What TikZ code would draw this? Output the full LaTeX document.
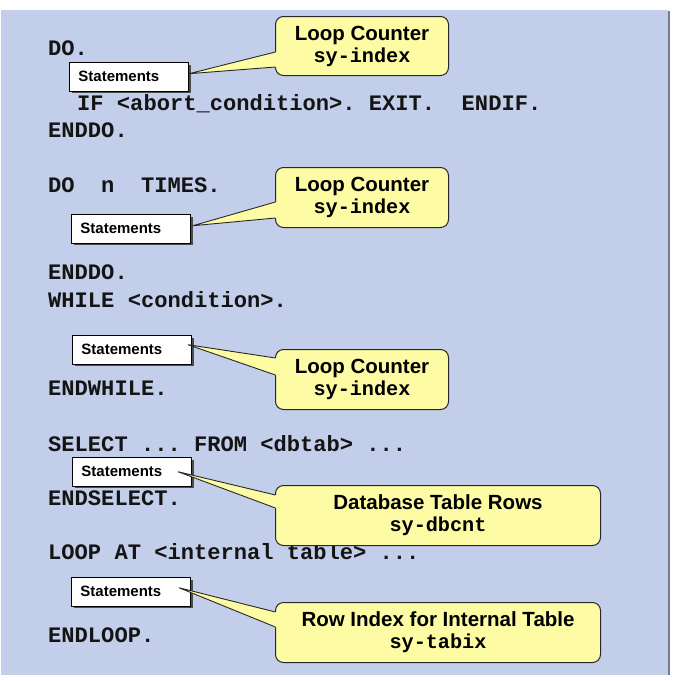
\documentclass[tikz,border=0pt]{standalone}
\usepackage{fontspec}
\setmainfont{Liberation Sans}
\newfontfamily\codefont{Liberation Mono}
\newfontfamily\labelfont{Liberation Sans}
\usetikzlibrary{shadows,calc}
\definecolor{panelbg}{RGB}{194,206,234}
\definecolor{paneledge}{RGB}{112,122,145}
\definecolor{calloutfill}{RGB}{253,251,163}
\definecolor{edgegray}{RGB}{40,40,40}

\newcommand\calloutptr[5]{%
  \begin{scope}
    \clip ($(#2)+(0,-90)$) rectangle ($(#1.west)+(6,90)$);
    \fill[calloutfill] ($(#1.north west)+(0,#3)$) -- (#2) -- ($(#1.north west)+(0,#4)$)
      -- ($(#1.north west)+(4,#4)$) -- ($(#1.north west)+(4,#3)$) -- cycle;
  \end{scope}
  \draw[edgegray, line width=0.9pt] ($(#1.north west)+(0.4,#3)$) -- (#2) -- ($(#1.north west)+(0.4,#4)$);
}

\begin{document}
\begin{tikzpicture}[x=1pt,y=-1pt,
  code/.style={anchor=base west, inner sep=0pt, text=black!92,
    font=\codefont\bfseries\fontsize{22.1}{26}\selectfont\frenchspacing},
  stmtbox/.style={draw=black, line width=0.9pt, fill=white, minimum height=28.5pt,
    text width=101pt, inner xsep=9pt, inner ysep=0pt, align=left, anchor=north west,
    font=\labelfont\bfseries\fontsize{15}{17}\selectfont,
    drop shadow={shadow xshift=2.2pt, shadow yshift=-2.2pt, fill=black!70, opacity=1}},
  callout/.style={draw=edgegray, line width=1pt, fill=calloutfill, rounded corners=8pt,
    align=center, inner sep=0pt, anchor=north west,
    font=\labelfont\bfseries\fontsize{20.5}{22}\selectfont}
  ]
\useasboundingbox (0,0) rectangle (675,681);
\fill[white] (0,0) rectangle (675,681);
\fill[panelbg] (1,10) rectangle (668,675);
\fill[paneledge] (667.5,11) rectangle (670,675);

% code lines
\node[code] (l1)  at (48,55.7)  {DO.};
\node[code] (l2)  at (77,110)   {IF <abort\_condition>. EXIT.\ \ ENDIF.};
\node[code] (l3)  at (48,137)   {ENDDO.};
\node[code] (l4)  at (48,192.7) {DO\ \ n\ \ TIMES.};
\node[code] (l5)  at (48,279)   {ENDDO.};
\node[code] (l6)  at (48,307)   {WHILE <condition>.};
\node[code] (l7)  at (48,395.7) {ENDWHILE.};
\node[code] (l8)  at (48,451)   {SELECT ... FROM <dbtab> ...};
\node[code] (l9)  at (48,505.7) {ENDSELECT.};
\node[code] (l10) at (48,559)   {LOOP AT <internal table> ...};
\node[code] (l11) at (48,642)   {ENDLOOP.};

% statement boxes
\node[stmtbox] (s1) at (69,62)  {Statements};
\node[stmtbox] (s2) at (71,214) {Statements};
\node[stmtbox] (s3) at (72,335) {Statements};
\node[stmtbox] (s4) at (72,457) {Statements};
\node[stmtbox] (s5) at (71,577) {Statements};

% callouts
\node[callout, minimum width=173pt, minimum height=59pt] (c1) at (275,16)
  {Loop Counter\\{\codefont\bfseries\fontsize{20.2}{22}\selectfont sy-index}};
\node[callout, minimum width=173pt, minimum height=60pt] (c2) at (275,167)
  {Loop Counter\\{\codefont\bfseries\fontsize{20.2}{22}\selectfont sy-index}};
\node[callout, minimum width=173pt, minimum height=60pt] (c3) at (275,349)
  {Loop Counter\\{\codefont\bfseries\fontsize{20.2}{22}\selectfont sy-index}};
\node[callout, minimum width=325pt, minimum height=60pt] (c4) at (275,485)
  {Database Table Rows\\{\codefont\bfseries\fontsize{20.2}{22}\selectfont sy-dbcnt}};
\node[callout, minimum width=325pt, minimum height=60pt] (c5) at (275,602)
  {Row Index for Internal Table\\{\codefont\bfseries\fontsize{20.2}{22}\selectfont sy-tabix}};

% pointer tips
\coordinate (t1) at ($(s1.east)+(0,-3)$);
\coordinate (t2) at ($(s2.east)+(2,-3)$);
\coordinate (t3) at ($(s3.east)+(-4,-5)$);
\coordinate (t4) at ($(s4.east)+(-14,0)$);
\coordinate (t5) at ($(s5.east)+(-12,-4)$);

\calloutptr{c1}{t1}{36}{51}{}
\calloutptr{c2}{t2}{35}{51}{}
\calloutptr{c3}{t3}{9}{26}{}
\calloutptr{c4}{t4}{10}{23}{}
\calloutptr{c5}{t5}{10}{25}{}
\end{tikzpicture}
\end{document}
